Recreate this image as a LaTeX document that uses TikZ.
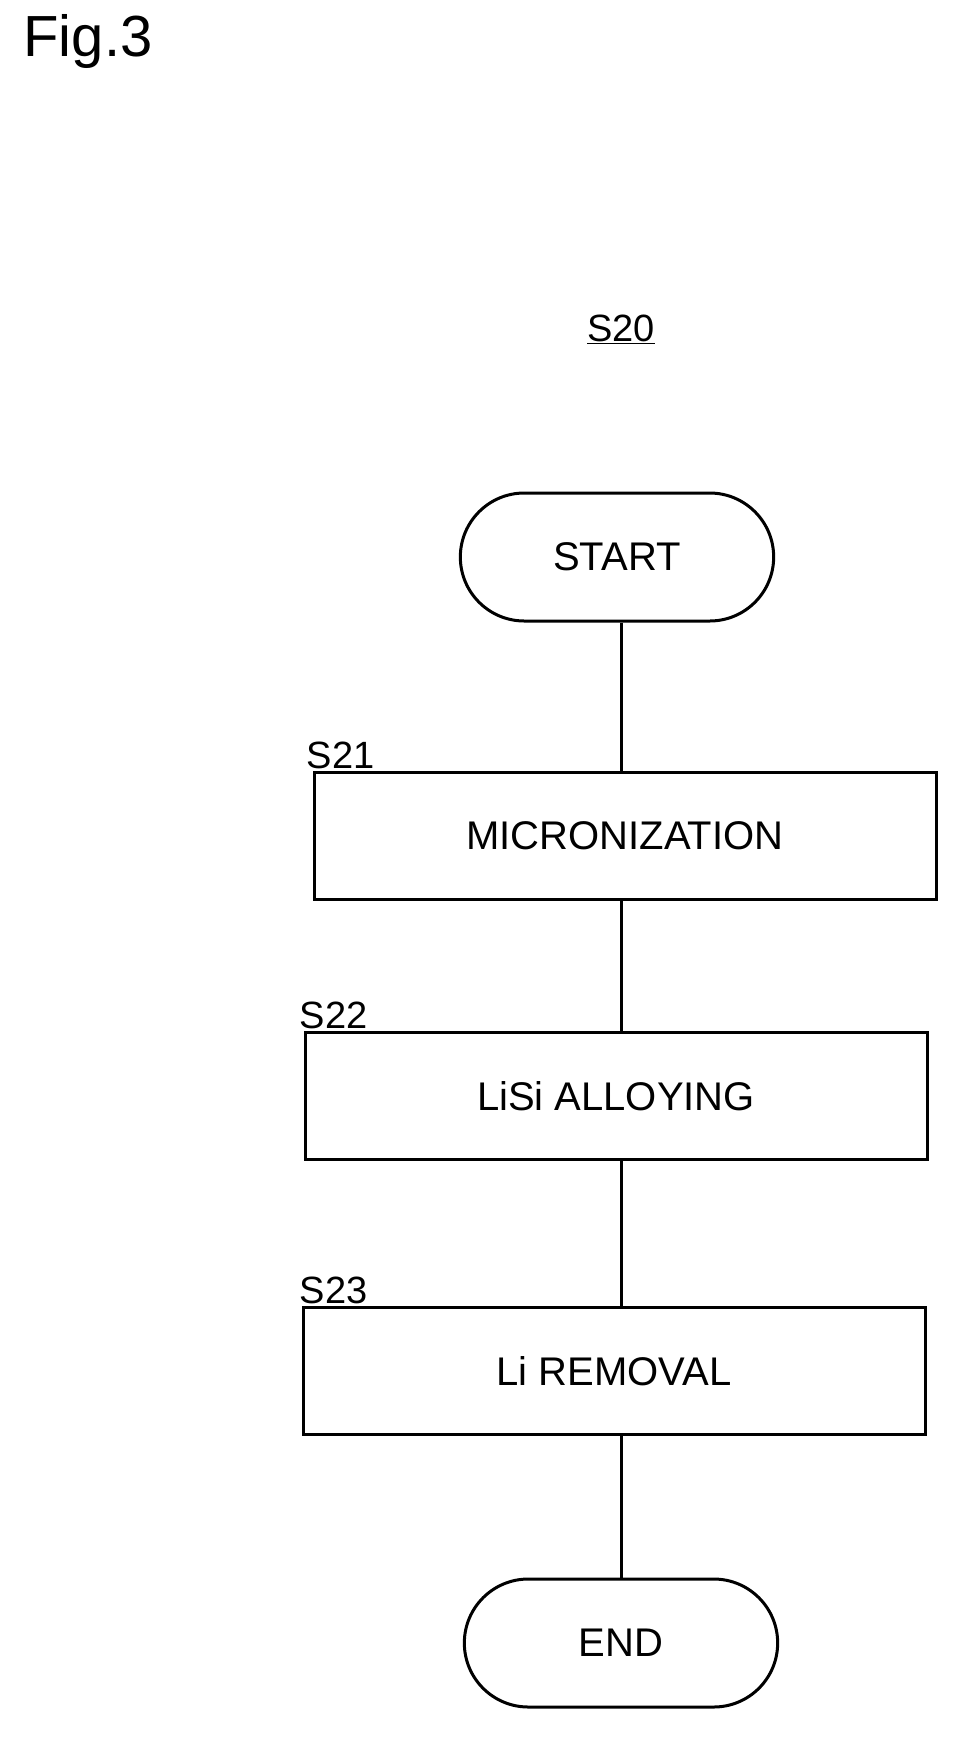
\documentclass[tikz,border=0pt]{standalone}
\usepackage{fontspec}
\setmainfont{Liberation Sans}
\usetikzlibrary{shapes.misc}

\begin{document}
\begin{tikzpicture}[x=1pt,y=-1pt,
terminal/.style={rounded rectangle, draw=black, line width=3, minimum width=320, minimum height=128, font=\fontsize{40}{44}\selectfont},
process/.style={rectangle, draw=black, line width=3, minimum width=622, minimum height=127, font=\fontsize{40}{44}\selectfont},
steplabel/.style={anchor=south west, inner sep=0, font=\fontsize{38}{42}\selectfont},
]
\useasboundingbox (0,0) rectangle (954,1746);

% Title and reference sign
\node (fig) at (88,42) {\fontsize{58}{62}\selectfont Fig.3};
\node (ref) at (621,329) {\fontsize{38}{42}\selectfont\underline{S20}};

% Flow nodes
\node[terminal] (start) at (617,557) {START};
\node[process] (micro) at (625,836) {MICRONIZATION};
\node[process] (alloy) at (616,1096) {LiSi ALLOYING};
\node[process] (remove) at (614,1371) {Li REMOVAL};
\node[terminal] (end) at (621,1643) {END};

% Step labels
\node[steplabel] (s21) at (micro.north west) [xshift=-6, yshift=2] {S21};
\node[steplabel] (s22) at (alloy.north west) [xshift=-4, yshift=2] {S22};
\node[steplabel] (s23) at (remove.north west) [xshift=-2, yshift=2] {S23};

% Connectors
\draw[line width=3] (start.south -| 621,0) -- (micro.north -| 621,0);
\draw[line width=3] (micro.south -| 621,0) -- (alloy.north -| 621,0);
\draw[line width=3] (alloy.south -| 621,0) -- (remove.north -| 621,0);
\draw[line width=3] (remove.south -| 621,0) -- (end.north -| 621,0);

\end{tikzpicture}
\end{document}
